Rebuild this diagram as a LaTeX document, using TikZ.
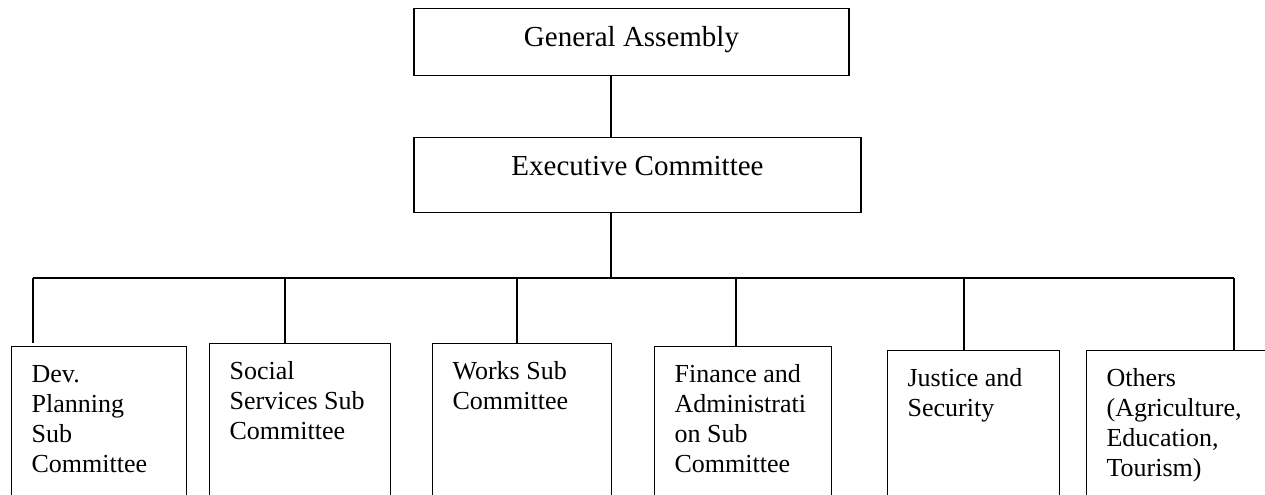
\documentclass[tikz,border=0pt]{standalone}
\usepackage{fontspec}
\setmainfont{Liberation Serif}
\usepackage{tikz}

\tikzset{
  topbox/.style={draw, anchor=north, inner ysep=0pt, text height=19pt, font=\fontsize{14.5}{17}\selectfont},
  subbox/.style={draw, anchor=north west, align=flush left, text width=#1, inner xsep=10pt, inner ysep=0pt, text height=18pt, text depth=90pt, font=\fontsize{13}{15}\selectfont}
}

\begin{document}
\begin{tikzpicture}[x=0.5pt, y=-0.5pt, line width=0.6pt]

\useasboundingbox (0,0) rectangle (1265,494);
\clip (0,0) rectangle (1265,494);

\node (ga) at (631.5, 8) [topbox, minimum width=217.5pt, text depth=14.5pt] {General Assembly};
\node (ec) at (637.5, 137) [topbox, minimum width=223.5pt, text depth=18.5pt] {Executive Committee};

\node (dev) at (11, 346) [subbox=67.5pt] {Dev.\\Planning\\Sub\\Committee};
\node (soc) at (209, 343) [subbox=70.5pt] {Social\\Services Sub\\Committee};
\node (works) at (432, 343) [subbox=69.5pt] {Works Sub\\Committee};
\node (fin) at (654, 346) [subbox=68.5pt] {Finance and\\Administrati\\on Sub\\Committee};
\node (just) at (887, 350) [subbox=66pt] {Justice and\\Security};
\node (oth) at (1086, 350) [subbox=87pt] {Others\\(Agriculture,\\Education,\\Tourism)};

\coordinate (bus) at (611, 278);
\coordinate (b1) at (33, 278);
\coordinate (b2) at (285, 278);
\coordinate (b3) at (517, 278);
\coordinate (b4) at (736, 278);
\coordinate (b5) at (964, 278);
\coordinate (b6) at (1234, 278);

\draw (ga.south -| bus) -- (ec.north -| bus);
\draw (ec.south -| bus) -- (bus);
\draw (b1) -- (b6);

\draw (b1) -- ([yshift=1.5pt]b1 |- dev.north);
\draw (b2) -- (b2 |- soc.north);
\draw (b3) -- (b3 |- works.north);
\draw (b4) -- (b4 |- fin.north);
\draw (b5) -- (b5 |- just.north);
\draw (b6) -- (b6 |- oth.north);

\end{tikzpicture}
\end{document}
